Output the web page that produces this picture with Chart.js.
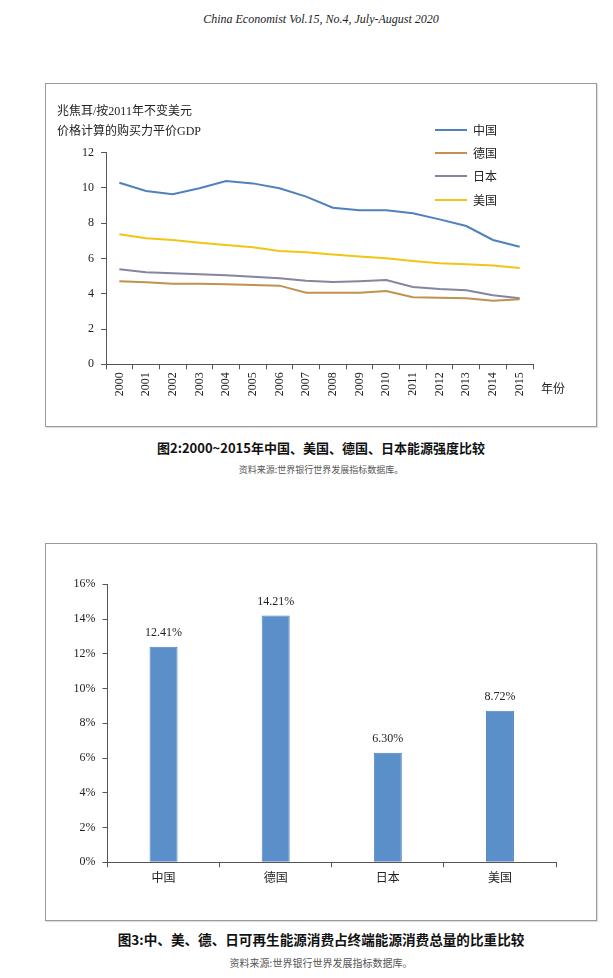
<!DOCTYPE html>
<html lang="zh">
<head>
<meta charset="UTF-8">
<title>能源强度与可再生能源比重</title>
<script src="https://cdn.jsdelivr.net/npm/chart.js"></script>
<style>
    body {
        margin: 0;
        background: #fff;
        font-family: 'Liberation Serif', 'Noto Sans CJK SC', serif;
        color: #222;
    }
    #page {
        position: relative;
        width: 613px;
        height: 978px;
        overflow: hidden;
    }
    .abs { position: absolute; white-space: nowrap; }
    .frame {
        position: absolute;
        left: 45px;
        width: 550px;
        border: 1px solid #9a9a9a;
        box-shadow: 1px 1px 1px rgba(0,0,0,0.12);
    }
    .chartbox { position: absolute; left: 46px; width: 550px; }
    .header {
        left: 46px; width: 550px; top: 12px;
        text-align: center;
        font-style: italic;
        font-size: 12px;
    }
    .caption {
        left: 46px; width: 550px;
        text-align: center;
        font-family: 'Noto Sans CJK SC', sans-serif;
        font-weight: bold;
        color: #111;
    }
    .source {
        left: 46px; width: 550px;
        text-align: center;
        font-family: 'Noto Sans CJK SC', sans-serif;
        color: #555;
    }
    .ytitle { font-size: 12px; line-height: 20px; left: 57px; top: 101px; }
    .legend { left: 435px; top: 118px; font-size: 12px; }
    .legend div { height: 23.3px; display: flex; align-items: center; }
    .legend span.sw { display: inline-block; width: 32px; height: 2px; margin-right: 6px; }
</style>
</head>
<body>
<div id="page">
    <div class="abs header">China Economist Vol.15, No.4, July-August 2020</div>

    <div class="frame" style="top:83px;height:342px;"></div>
    <div class="chartbox" style="top:84px;height:340px;"><canvas id="intensityChart"></canvas></div>
    <div class="abs ytitle">兆焦耳/按2011年不变美元<br>价格计算的购买力平价GDP</div>
    <div class="abs legend" id="legend"></div>
    <div class="abs" style="left:541px;top:379px;font-size:12px;">年份</div>
    <div class="abs caption" style="top:438px;font-size:13px;">图2:2000~2015年中国、美国、德国、日本能源强度比较</div>
    <div class="abs source" style="top:463px;font-size:9px;">资料来源:世界银行世界发展指标数据库。</div>

    <div class="frame" style="top:543px;height:376px;"></div>
    <div class="chartbox" style="top:544px;height:375px;"><canvas id="shareChart"></canvas></div>
    <div class="abs caption" style="top:929px;font-size:13.6px;">图3:中、美、德、日可再生能源消费占终端能源消费总量的比重比较</div>
    <div class="abs source" style="top:955px;font-size:10px;">资料来源:世界银行世界发展指标数据库。</div>
</div>

<script>
    // figure 2: energy intensity, MJ per 2011 PPP dollar of GDP
    const years = ['2000', '2001', '2002', '2003', '2004', '2005', '2006', '2007',
                   '2008', '2009', '2010', '2011', '2012', '2013', '2014', '2015'];
    const chinaIntensity   = [10.30, 9.83, 9.64, 9.98, 10.40, 10.26, 9.98, 9.51, 8.88, 8.73, 8.73, 8.56, 8.22, 7.84, 7.05, 6.67];
    const germanyIntensity = [4.71, 4.65, 4.57, 4.57, 4.54, 4.50, 4.46, 4.06, 4.06, 4.06, 4.16, 3.80, 3.78, 3.74, 3.61, 3.69];
    const japanIntensity   = [5.39, 5.22, 5.16, 5.10, 5.05, 4.97, 4.88, 4.74, 4.67, 4.71, 4.78, 4.39, 4.27, 4.20, 3.91, 3.74];
    const usIntensity      = [7.37, 7.15, 7.05, 6.90, 6.77, 6.64, 6.43, 6.35, 6.22, 6.12, 6.01, 5.86, 5.73, 5.67, 5.60, 5.46];
    const seriesNames  = ['中国', '德国', '日本', '美国'];
    const seriesColors = ['#4f81bd', '#c0914f', '#8585a0', '#f2c418'];

    // figure 3: renewable share of final energy consumption (%)
    const countries = ['中国', '德国', '日本', '美国'];
    const renewableShare = [12.41, 14.21, 6.30, 8.72];

    const serif = "'Liberation Serif', 'Noto Sans CJK SC', serif";
    const axisColor = '#555';

    const seriesData = [chinaIntensity, germanyIntensity, japanIntensity, usIntensity];

    // legend
    const legend = document.getElementById('legend');
    seriesNames.forEach((name, i) => {
        legend.innerHTML += `<div><span class="sw" style="background:${seriesColors[i]}"></span>${name}</div>`;
    });

    new Chart(document.getElementById('intensityChart'), {
        type: 'line',
        data: {
            labels: years,
            datasets: seriesNames.map((name, i) => ({
                label: name,
                data: seriesData[i],
                borderColor: seriesColors[i],
                backgroundColor: seriesColors[i],
                borderWidth: 2,
                pointRadius: 0,
                tension: 0
            }))
        },
        options: {
            responsive: true,
            maintainAspectRatio: false,
            animation: false,
            layout: { padding: { left: 0, top: 68.7, right: 63, bottom: 19.7 } },
            plugins: { legend: { display: false }, tooltip: { enabled: false } },
            scales: {
                x: {
                    offset: true,
                    afterFit: s => { s.height = 40; },
                    grid: { offset: true, drawOnChartArea: false, tickLength: 5, color: axisColor },
                    border: { color: axisColor },
                    ticks: { minRotation: 90, maxRotation: 90, padding: 3, color: '#222',
                             font: { family: serif, size: 12 } }
                },
                y: {
                    min: 0, max: 12,
                    afterFit: s => { s.width = 60; },
                    grid: { drawOnChartArea: false, tickLength: 5, color: axisColor },
                    border: { color: axisColor },
                    ticks: { stepSize: 2, padding: 7, color: '#222', font: { family: serif, size: 12 } }
                }
            }
        }
    });

    const barLabels = {
        id: 'barLabels',
        afterDatasetsDraw(chart) {
            const ctx = chart.ctx;
            ctx.save();
            ctx.font = '12px ' + serif;
            ctx.fillStyle = '#222';
            ctx.textAlign = 'center';
            ctx.textBaseline = 'middle';
            chart.getDatasetMeta(0).data.forEach((bar, i) => {
                ctx.fillText(renewableShare[i].toFixed(2) + '%', bar.x, bar.y - 14);
            });
            ctx.restore();
        }
    };

    new Chart(document.getElementById('shareChart'), {
        type: 'bar',
        data: {
            labels: countries,
            datasets: [{
                data: renewableShare,
                backgroundColor: '#5b8fca',
                borderColor: '#4f82bd',
                borderWidth: 1,
                categoryPercentage: 1,
                barPercentage: 0.25
            }]
        },
        options: {
            responsive: true,
            maintainAspectRatio: false,
            animation: false,
            layout: { padding: { left: 0, top: 40.3, right: 40, bottom: 26.7 } },
            plugins: { legend: { display: false }, tooltip: { enabled: false } },
            scales: {
                x: {
                    afterFit: s => { s.height = 30; },
                    grid: { drawOnChartArea: false, tickLength: 5, color: axisColor },
                    border: { color: axisColor },
                    ticks: { padding: 4, color: '#222', font: { family: serif, size: 12 } }
                },
                y: {
                    min: 0, max: 16,
                    afterFit: s => { s.width = 61.5; },
                    grid: { drawOnChartArea: false, tickLength: 5, color: axisColor },
                    border: { color: axisColor },
                    ticks: { stepSize: 2, padding: 7, color: '#222', font: { family: serif, size: 12 },
                             callback: v => v + '%' }
                }
            }
        },
        plugins: [barLabels]
    });
</script>
</body>
</html>
